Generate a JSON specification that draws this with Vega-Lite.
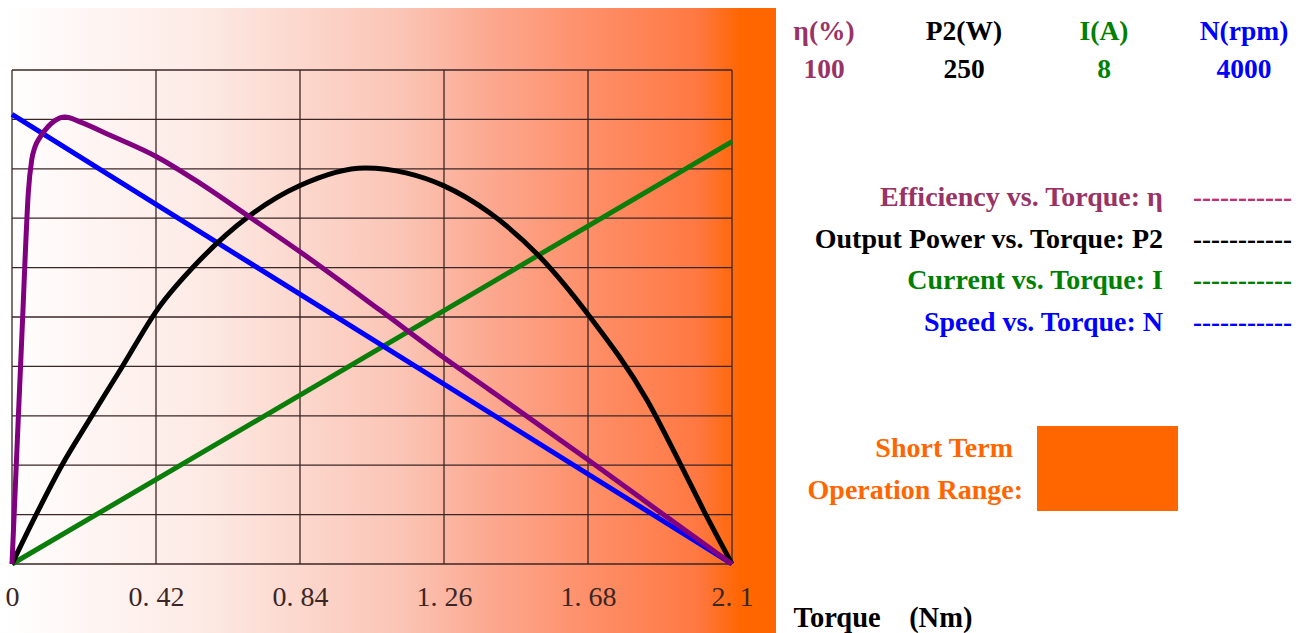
{
  "$schema": "https://vega.github.io/schema/vega-lite/v6.json",
  "width": 776,
  "height": 625,
  "autosize": {"type": "none"},
  "padding": {"left": 0, "top": 8, "right": 534, "bottom": 0},
  "background": "#ffffff",
  "config": {
    "view": {
      "stroke": null,
      "fill": {
        "gradient": "linear", "x1": 0, "y1": 0, "x2": 1, "y2": 0,
        "stops": [
          {"offset": 0, "color": "#ffffff"},
          {"offset": 0.26, "color": "#fdeae5"},
          {"offset": 0.52, "color": "#fbc4b4"},
          {"offset": 0.64, "color": "#fca68d"},
          {"offset": 0.77, "color": "#fe8d66"},
          {"offset": 0.9, "color": "#ff7842"},
          {"offset": 0.955, "color": "#ff6600"},
          {"offset": 1, "color": "#ff6600"}
        ]
      }
    }
  },
  "datasets": {
    "xticks": [{"t": 0}, {"t": 0.42}, {"t": 0.84}, {"t": 1.26}, {"t": 1.68}, {"t": 2.1}],
    "yticks": [{"g": 0}, {"g": 1}, {"g": 2}, {"g": 3}, {"g": 4}, {"g": 5}, {"g": 6}, {"g": 7}, {"g": 8}, {"g": 9}, {"g": 10}],
    "efficiency": [
      {"torque": 0, "eta": 0}, {"torque": 0.032, "eta": 51.4}, {"torque": 0.038, "eta": 61.5},
      {"torque": 0.0475, "eta": 75.1}, {"torque": 0.0575, "eta": 81.8}, {"torque": 0.067, "eta": 84.4},
      {"torque": 0.0817, "eta": 86.4}, {"torque": 0.105, "eta": 88.5}, {"torque": 0.14, "eta": 90.3},
      {"torque": 0.155, "eta": 90.5}, {"torque": 0.198, "eta": 89.5}, {"torque": 0.286, "eta": 86.8},
      {"torque": 0.423, "eta": 82.4}, {"torque": 0.548, "eta": 77.1}, {"torque": 0.694, "eta": 70.2},
      {"torque": 0.84, "eta": 63.2}, {"torque": 1.073, "eta": 51.4}, {"torque": 1.257, "eta": 41.9},
      {"torque": 1.394, "eta": 35.2}, {"torque": 1.68, "eta": 21.1}, {"torque": 1.91, "eta": 9.5},
      {"torque": 2.1, "eta": 0}
    ],
    "power": [
      {"torque": 0, "p2": 0}, {"torque": 0.067, "p2": 23.8}, {"torque": 0.146, "p2": 50.1},
      {"torque": 0.222, "p2": 71.9}, {"torque": 0.321, "p2": 99.7}, {"torque": 0.423, "p2": 128.5},
      {"torque": 0.548, "p2": 153.8}, {"torque": 0.688, "p2": 175.6}, {"torque": 0.84, "p2": 191.5},
      {"torque": 1.03, "p2": 200.4}, {"torque": 1.152, "p2": 197.8}, {"torque": 1.257, "p2": 191.6},
      {"torque": 1.394, "p2": 177.6}, {"torque": 1.54, "p2": 155.4}, {"torque": 1.686, "p2": 125.0},
      {"torque": 1.852, "p2": 83.0}, {"torque": 1.948, "p2": 51.1}, {"torque": 2.027, "p2": 23.8},
      {"torque": 2.1, "p2": 0}
    ],
    "current": [{"torque": 0, "i": 0}, {"torque": 1.05, "i": 3.42}, {"torque": 2.1, "i": 6.84}],
    "speed": [{"torque": 0, "n": 3640}, {"torque": 1.05, "n": 1820}, {"torque": 2.1, "n": 0}],
    "legend": [
      {"series": "Efficiency", "head": "η(%)", "top": "100", "name": "Efficiency vs. Torque: η", "dash": "-----------"},
      {"series": "Output Power", "head": "P2(W)", "top": "250", "name": "Output Power vs. Torque: P2", "dash": "-----------"},
      {"series": "Current", "head": "I(A)", "top": "8", "name": "Current vs. Torque: I", "dash": "-----------"},
      {"series": "Speed", "head": "N(rpm)", "top": "4000", "name": "Speed vs. Torque: N", "dash": "-----------"}
    ],
    "range": [{"label": "Short Term Operation Range", "line1": "Short Term", "line2": "Operation Range:"}]
  },
  "layer": [
    {
      "data": {"name": "xticks"},
      "mark": {"type": "rule", "color": "#3b2626", "strokeWidth": 1.3},
      "encoding": {
        "x": {
          "field": "t", "type": "quantitative",
          "scale": {"domain": [0, 2.1], "range": [12, 732]},
          "axis": {
            "values": [0, 0.42, 0.84, 1.26, 1.68, 2.1],
            "labelExpr": "replace(toString(datum.value), '.', '. ')",
            "orient": "bottom", "offset": -69,
            "domain": false, "ticks": false, "grid": false, "labelFlush": false,
            "labelFont": "Liberation Serif", "labelFontSize": 28, "labelColor": "#3b2626",
            "labelBaseline": "middle", "labelPadding": 33, "labelAlign": "center",
            "title": "Torque\u00a0\u00a0\u00a0\u00a0(Nm)",
            "titleFont": "Liberation Serif", "titleFontSize": 28.5, "titleFontWeight": "bold",
            "titleColor": "#000000", "titleX": 793, "titleY": 53, "titleAlign": "left",
            "titleBaseline": "middle", "titleAnchor": "start"
          }
        },
        "y": {"datum": 0, "type": "quantitative", "scale": {"domain": [0, 10], "range": [556, 62]}, "axis": null},
        "y2": {"datum": 10}
      }
    },
    {
      "data": {"name": "yticks"},
      "mark": {"type": "rule", "color": "#3b2626", "strokeWidth": 1.3},
      "encoding": {
        "y": {"field": "g", "type": "quantitative", "scale": {"domain": [0, 10], "range": [556, 62]}, "axis": null},
        "x": {"datum": 0, "type": "quantitative", "scale": {"domain": [0, 2.1], "range": [12, 732]}, "axis": null},
        "x2": {"datum": 2.1}
      }
    },
    {
      "data": {"name": "current"},
      "mark": {"type": "line", "color": "#0a7d0a", "strokeWidth": 5},
      "encoding": {
        "x": {"field": "torque", "type": "quantitative", "scale": {"domain": [0, 2.1], "range": [12, 732]}, "axis": null},
        "y": {"field": "i", "type": "quantitative", "scale": {"domain": [0, 8], "range": [556, 62]}, "axis": null}
      }
    },
    {
      "data": {"name": "speed"},
      "mark": {"type": "line", "color": "#0000ff", "strokeWidth": 5},
      "encoding": {
        "x": {"field": "torque", "type": "quantitative", "scale": {"domain": [0, 2.1], "range": [12, 732]}, "axis": null},
        "y": {"field": "n", "type": "quantitative", "scale": {"domain": [0, 4000], "range": [556, 62]}, "axis": null}
      }
    },
    {
      "data": {"name": "power"},
      "mark": {"type": "line", "color": "#000000", "strokeWidth": 5, "interpolate": "monotone"},
      "encoding": {
        "x": {"field": "torque", "type": "quantitative", "scale": {"domain": [0, 2.1], "range": [12, 732]}, "axis": null},
        "y": {"field": "p2", "type": "quantitative", "scale": {"domain": [0, 250], "range": [556, 62]}, "axis": null}
      }
    },
    {
      "data": {"name": "efficiency"},
      "mark": {"type": "line", "color": "#800080", "strokeWidth": 5, "interpolate": "monotone"},
      "encoding": {
        "x": {"field": "torque", "type": "quantitative", "scale": {"domain": [0, 2.1], "range": [12, 732]}, "axis": null},
        "y": {"field": "eta", "type": "quantitative", "scale": {"domain": [0, 100], "range": [556, 62]}, "axis": null}
      }
    },
    {
      "data": {"name": "legend"},
      "transform": [{"fold": ["head", "top"], "as": ["line", "text"]}],
      "mark": {"type": "text", "font": "Liberation Serif", "fontWeight": "bold", "fontSize": 27.5, "align": "center", "baseline": "middle"},
      "encoding": {
        "x": {"field": "series", "type": "nominal", "scale": {"type": "point", "domain": ["Efficiency", "Output Power", "Current", "Speed"], "range": [824, 1244], "padding": 0}, "axis": null},
        "y": {"field": "line", "type": "nominal", "scale": {"type": "point", "domain": ["head", "top"], "range": [24, 62], "padding": 0}, "axis": null},
        "color": {"field": "series", "type": "nominal", "scale": {"domain": ["Efficiency", "Output Power", "Current", "Speed"], "range": ["#993366", "#000000", "#008000", "#0000ff"]}, "legend": null},
        "text": {"field": "text"}
      }
    },
    {
      "data": {"name": "legend"},
      "transform": [{"fold": ["name"], "as": ["part", "text"]}],
      "mark": {"type": "text", "font": "Liberation Serif", "fontWeight": "bold", "fontSize": 28, "align": "right", "baseline": "middle"},
      "encoding": {
        "x": {"field": "part", "type": "nominal", "scale": {"type": "point", "domain": ["name", "dash"], "range": [1163, 1193], "padding": 0}, "axis": null},
        "y": {"field": "series", "type": "nominal", "scale": {"type": "point", "domain": ["Efficiency", "Output Power", "Current", "Speed"], "range": [190, 315], "padding": 0}, "axis": null},
        "color": {"field": "series", "type": "nominal", "scale": {"domain": ["Efficiency", "Output Power", "Current", "Speed"], "range": ["#993366", "#000000", "#008000", "#0000ff"]}, "legend": null},
        "text": {"field": "text"}
      }
    },
    {
      "data": {"name": "legend"},
      "transform": [{"fold": ["dash"], "as": ["part", "text"]}],
      "mark": {"type": "text", "font": "Liberation Serif", "fontWeight": "bold", "fontSize": 27, "align": "left", "baseline": "middle"},
      "encoding": {
        "x": {"field": "part", "type": "nominal", "scale": {"type": "point", "domain": ["name", "dash"], "range": [1163, 1193], "padding": 0}, "axis": null},
        "y": {"field": "series", "type": "nominal", "scale": {"type": "point", "domain": ["Efficiency", "Output Power", "Current", "Speed"], "range": [190, 315], "padding": 0}, "axis": null},
        "color": {"field": "series", "type": "nominal", "scale": {"domain": ["Efficiency", "Output Power", "Current", "Speed"], "range": ["#c03070", "#000000", "#008000", "#0000ff"]}, "legend": null},
        "text": {"field": "text"}
      }
    },
    {
      "data": {"name": "range"},
      "transform": [{"fold": ["line1", "line2"], "as": ["line", "text"]}],
      "mark": {"type": "text", "font": "Liberation Serif", "fontWeight": "bold", "fontSize": 28, "align": "right", "baseline": "middle"},
      "encoding": {
        "x": {"field": "line", "type": "nominal", "scale": {"type": "point", "domain": ["line1", "line2"], "range": [1013, 1023], "padding": 0}, "axis": null},
        "y": {"field": "line", "type": "nominal", "scale": {"type": "point", "domain": ["line1", "line2"], "range": [441, 483], "padding": 0}, "axis": null},
        "color": {"field": "label", "type": "nominal", "scale": {"range": ["#ff6600"]}, "legend": null},
        "text": {"field": "text"}
      }
    },
    {
      "data": {"name": "range"},
      "mark": {"type": "rect"},
      "encoding": {
        "x": {"field": "label", "type": "nominal", "scale": {"type": "band", "range": [1037, 1178], "paddingInner": 0, "paddingOuter": 0}, "axis": null},
        "y": {"field": "label", "type": "nominal", "scale": {"type": "band", "range": [418, 503], "paddingInner": 0, "paddingOuter": 0}, "axis": null},
        "color": {"field": "label", "type": "nominal", "scale": {"range": ["#ff6600"]}, "legend": null}
      }
    }
  ],
  "resolve": {
    "scale": {"x": "independent", "y": "independent", "color": "independent"},
    "axis": {"x": "independent", "y": "independent"}
  }
}
